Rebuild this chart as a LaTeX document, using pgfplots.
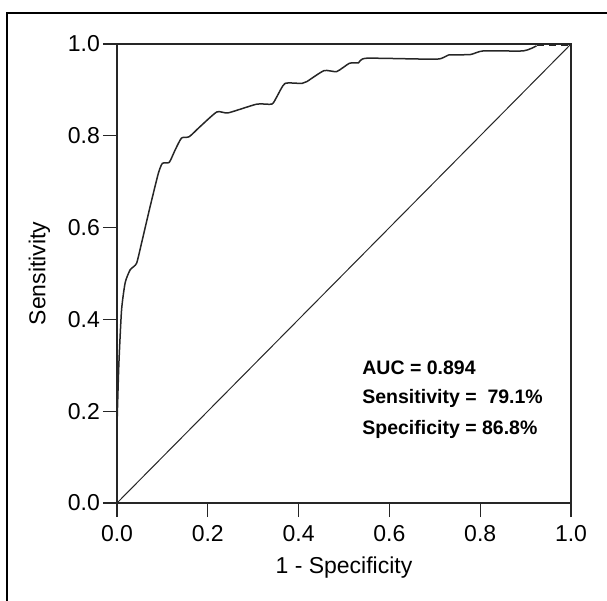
\documentclass[border=0pt]{standalone}
\usepackage{pgfplots}
\pgfplotsset{compat=1.18}
\usepackage{fontspec}
\setmainfont{Liberation Sans}
\begin{document}
\begin{tikzpicture}
\useasboundingbox (0,0) rectangle (607bp,-601bp);
\draw[line width=2bp, black] (7bp,-601bp) -- (7bp,-13bp) -- (607bp,-13bp);
\begin{axis}[
  at={(117bp,-503bp)}, anchor=south west,
  width=454bp, height=459bp, scale only axis,
  xmin=0, xmax=1, ymin=0, ymax=1,
  xtick={0,0.2,...,1.0}, ytick={0,0.2,...,1.0},
  xtick pos=bottom, ytick pos=left,
  tick align=outside, major tick length=14bp,
  tick style={line width=1.2bp, black!85},
  axis line style={line width=1.3bp, black!85},
  xticklabels={0.0,0.2,0.4,0.6,0.8,1.0},
  yticklabels={0.0,0.2,0.4,0.6,0.8,1.0},
  ticklabel style={font=\fontsize{23bp}{25bp}\selectfont},
  xticklabel style={inner sep=2bp, yshift=-6bp},
  yticklabel style={inner sep=1bp, xshift=-2bp},
  xlabel={1 - Specificity}, ylabel={Sensitivity},
  label style={font=\fontsize{23bp}{25bp}\selectfont},
  xlabel style={at={(axis description cs:0.5,-0.14)}, anchor=center},
  ylabel style={at={(axis description cs:-0.171,0.5)}, anchor=center},
  clip=false,
]
\addplot[black!85, line width=1bp] coordinates {(0,0) (1,1)};
\addplot[black!85, line width=1.5bp, smooth, tension=0.35] coordinates {
(0,0.17) (0.004,0.30) (0.010,0.42) (0.018,0.48) (0.029,0.508) (0.043,0.522)
(0.054,0.566) (0.073,0.646) (0.091,0.718) (0.100,0.740) (0.115,0.742)
(0.128,0.769) (0.142,0.795) (0.159,0.798) (0.183,0.820) (0.220,0.852)
(0.245,0.850) (0.308,0.869) (0.341,0.869) (0.352,0.885) (0.370,0.914)
(0.407,0.914) (0.418,0.918) (0.456,0.942) (0.484,0.940) (0.512,0.958)
(0.532,0.959) (0.550,0.969) (0.704,0.967) (0.730,0.976) (0.778,0.977)
(0.807,0.985) (0.895,0.985) (0.924,0.996)
};
\addplot[black!85, line width=1.5bp, dash pattern=on 7bp off 5bp] coordinates {(0.926,0.997) (1,0.997)};
\node[anchor=base west, inner sep=0pt, font=\bfseries\fontsize{19.5bp}{21bp}\selectfont] at (axis cs:0.54,0.281) {AUC = 0.894};
\node[anchor=base west, inner sep=0pt, font=\bfseries\fontsize{19.5bp}{21bp}\selectfont] at (axis cs:0.54,0.216) {Sensitivity =\ \ 79.1\%};
\node[anchor=base west, inner sep=0pt, font=\bfseries\fontsize{19.5bp}{21bp}\selectfont] at (axis cs:0.54,0.150) {Specificity = 86.8\%};
\end{axis}
\end{tikzpicture}
\end{document}
